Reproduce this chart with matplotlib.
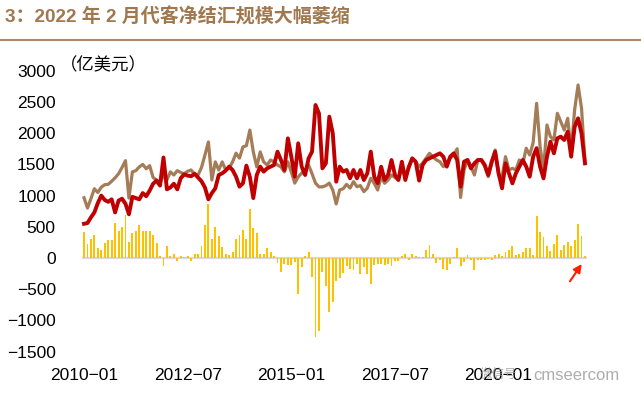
import matplotlib.pyplot as plt
from matplotlib.lines import Line2D
import numpy as np
import pandas as pd

plt.rcParams['font.family'] = ['Liberation Sans', 'Noto Sans CJK SC']

# monthly, 2010-01 .. 2022-02 (亿美元)
months = pd.date_range('2010-01', periods=146, freq='MS').strftime('%Y-%m')

# brown line
jiehui = [
    965, 800, 950, 1110, 1050, 1135, 1175, 1180, 1230, 1285, 1350, 1450,  # 2010
    1560, 960, 1380, 1400, 1460, 1500, 1430, 1480, 1290, 1250, 1200, 1330,  # 2011
    1250, 1380, 1330, 1400, 1370, 1350, 1390, 1410, 1340, 1330, 1450, 1650,  # 2012
    1860, 1250, 1540, 1410, 1540, 1410, 1440, 1540, 1680, 1600, 1780, 1800,  # 2013
    2050, 1700, 1460, 1700, 1540, 1490, 1570, 1540, 1490, 1460, 1380, 1540,  # 2014
    1380, 1200, 1300, 1360, 1410, 1490, 1350, 1200, 1140, 1140, 1160, 1200,  # 2015
    1090, 866, 1090, 1110, 1180, 1120, 1223, 1143, 1160, 1063, 1120, 1277,  # 2016
    1197, 1090, 1300, 1197, 1250, 1330, 1290, 1250, 1420, 1330, 1437, 1597,  # 2017
    1543, 1463, 1520, 1600, 1677, 1620, 1571, 1543, 1464, 1520, 1600, 1650,  # 2018
    1750, 970, 1410, 1571, 1464, 1330, 1571, 1571, 1464, 1303, 1517, 1731,  # 2019
    1330, 1303, 1624, 1410, 1437, 1410, 1571, 1517, 1758, 1650, 1850, 2479,  # 2020
    1784, 1410, 2131, 1944, 1891, 2318, 2185, 2051, 2238, 1700, 2372, 2772,  # 2021
    2400, 1544,  # 2022
]

# red line
shouhui = [
    548, 560, 650, 730, 880, 1000, 930, 900, 940, 730, 920, 950,
    870, 700, 980, 960, 940, 1040, 990, 1080, 1190, 1240, 1160, 1610,
    1100, 1130, 1190, 1100, 1280, 1340, 1320, 1310, 1350, 1290, 1230, 1130,
    940, 1040, 1116, 1330, 1357, 1400, 1464, 1410, 1303, 1143, 1197, 1480,
    1300, 960, 1330, 1464, 1384, 1437, 1464, 1490, 1704, 1571, 1410, 1917,
    1624, 1303, 1837, 1464, 1330, 1597, 1704, 2452, 2318, 1437, 1517, 2265,
    1998, 1223, 1463, 1384, 1410, 1277, 1410, 1277, 1410, 1250, 1357, 1704,
    1303, 1197, 1463, 1250, 1330, 1570, 1330, 1250, 1543, 1250, 1460, 1597,
    1543, 1240, 1490, 1570, 1597, 1624, 1650, 1677, 1624, 1464, 1624, 1677,
    1571, 1143, 1544, 1571, 1437, 1517, 1571, 1571, 1490, 1330, 1544, 1704,
    1357, 1116, 1517, 1357, 1196, 1357, 1464, 1571, 1464, 1303, 1624, 1760,
    1464, 1276, 1624, 1864, 1677, 1918, 1944, 1891, 2024, 1624, 2100, 2238,
    1998, 1517,
]

# yellow bars: net settlement
net = [
    415, 230, 310, 375, 165, 125, 245, 285, 290, 555, 430, 500,
    690, 250, 400, 430, 525, 440, 440, 440, 370, 245, 35, -130,
    195, 35, 65, -45, 35, 10, 35, -45, 70, 70, 195, 530,
    870, 310, 500, 355, 177, 70, 43, 97, 312, 366, 446, 312,
    785, 473, 403, 65, 65, 161, 97, 32, -75, -226, -91, -118,
    -118, -60, -575, -145, 32, 97, -306, -1274, -1166, -226, -452, -871,
    -710, -376, -323, -237, -129, -172, -199, -100, -253, -145, -253, -414,
    -118, -102, -91, -118, -91, -129, -43, -43, 32, 65, -38, 65,
    32, 20, 10, 124, 215, 70, -75, -40, -172, -199, -91, 20,
    161, -129, -65, 43, -40, -199, -38, -38, -38, -20, -38, 54,
    65, 32, 97, 124, 194, 43, 60, 97, 161, 161, 43, 670,
    410, 340, 190, 110, 230, 376, 135, 205, 250, 190, 290, 540,
    345, 30,
]

tick_months = ['2010-01', '2012-07', '2015-01', '2017-07', '2020-01']

fig = plt.figure(figsize=(6.41, 4.03), dpi=100)
ax = fig.add_axes([78 / 641, 41 / 403, 517 / 641, 302 / 403])

x = np.arange(len(months))
ax.bar(x, net, width=0.55, color='#ffc000', zorder=2)
ax.hlines(0, x[0] - 0.5, x[-1] + 0.6, color='#d9d9d9', lw=1.6, zorder=1)
ax.plot(x, jiehui, color='#a57c58', lw=2.3, zorder=3)
ax.plot(x, shouhui, color='#c00000', lw=2.8, zorder=4)

ax.set_xlim(-1.74, 147.9)
ax.set_ylim(-1667, 3173)
ax.set_yticks(range(-1500, 3001, 500))
ax.set_xticks([list(months).index(m) for m in tick_months])
ax.set_xticklabels([m.replace('-', '\u2212') for m in tick_months])
ax.tick_params(axis='y', length=0, labelsize=12.5, pad=16)
ax.tick_params(axis='x', length=0, labelsize=12.5, pad=4)
for s in ax.spines.values():
    s.set_visible(False)

# red arrow pointing at the last month
ax.annotate('', xy=(x[-1] - 0.5, -60), xytext=(x[-1] - 4.8, -410),
            arrowprops=dict(arrowstyle='-|>', color='#ff2000', lw=1.5,
                            mutation_scale=12))

# header
fig.text(5 / 641, 1 - 17 / 403, '3：2022 年 2 月代客净结汇规模大幅萎缩',
         fontsize=13.7, fontweight='bold', color='#a0784f', va='center')
fig.add_artist(Line2D([0, 1], [1 - 39.5 / 403] * 2, color='#b08b6b', lw=1.5))
fig.text(60 / 641, 1 - 65 / 403, '（亿美元）', fontsize=12.5, va='center')

# watermark
fig.text(480 / 641, 1 - 375 / 403, '微信号', fontsize=9, color='#999999',
         va='center', alpha=0.8)
fig.text(533 / 641, 1 - 375 / 403, 'cmseercom', fontsize=12, color='#999999',
         va='center', alpha=0.8)

fig.savefig('out.png', dpi=100)
